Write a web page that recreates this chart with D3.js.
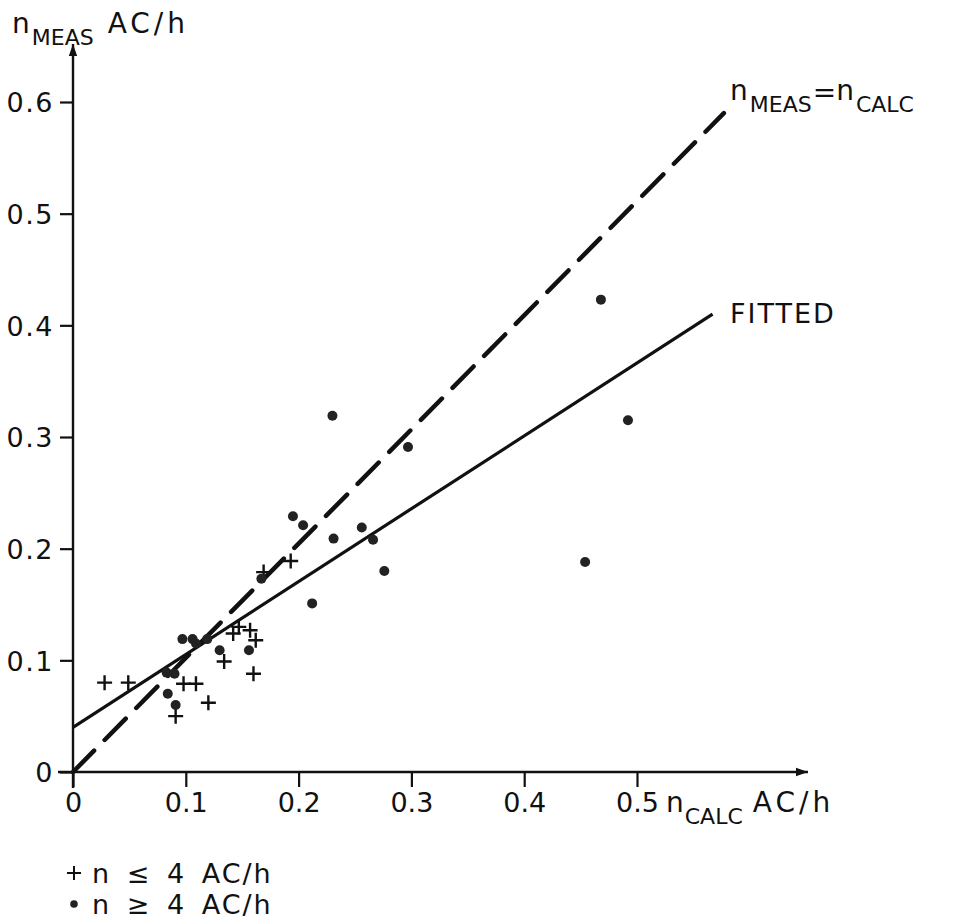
<!DOCTYPE html>
<html>
<head>
<meta charset="utf-8">
<script src="https://cdn.jsdelivr.net/npm/d3@7"></script>
<style>
  body { margin: 0; background: #fff; }
  svg { display: block; }
  text { font-family: "DejaVu Sans", sans-serif; fill: #111; }
  .tick text { font-size: 27px; }
  .tick line { stroke: #111; stroke-width: 2.2; }
</style>
</head>
<body>
<svg id="chart"></svg>
<script>
// n <= 4 AC/h  (plus markers)  [n_CALC, n_MEAS]
const lowRate = [
  [0.028, 0.080], [0.049, 0.080], [0.098, 0.079], [0.109, 0.079],
  [0.091, 0.050], [0.120, 0.062], [0.134, 0.099], [0.142, 0.124],
  [0.147, 0.130], [0.157, 0.127], [0.162, 0.118], [0.160, 0.088],
  [0.169, 0.179], [0.193, 0.189]
];
// n >= 4 AC/h  (dot markers)
const highRate = [
  [0.083, 0.089], [0.090, 0.088], [0.084, 0.070], [0.091, 0.060],
  [0.097, 0.119], [0.106, 0.119], [0.109, 0.115], [0.119, 0.119],
  [0.130, 0.109], [0.156, 0.109], [0.167, 0.173], [0.212, 0.151],
  [0.195, 0.229], [0.204, 0.221], [0.230, 0.319], [0.231, 0.209],
  [0.256, 0.219], [0.266, 0.208], [0.276, 0.180], [0.297, 0.291],
  [0.454, 0.188], [0.468, 0.423], [0.492, 0.315]
];
// reference lines
const identityLine = [[0, 0], [0.577, 0.59]];
const fittedLine = [[0, 0.04], [0.567, 0.41]];

const xTicks = [0, 0.1, 0.2, 0.3, 0.4, 0.5];
const xTickLabels = ["0", "0.1", "0.2", "0.3", "0.4", "0.5"];
const yTicks = [0, 0.1, 0.2, 0.3, 0.4, 0.5, 0.6];
const yTickLabels = ["0", "0.1", "0.2", "0.3", "0.4", "0.5", "0.6"];

const width = 956, height = 923;

const svg = d3.select('#chart')
  .attr('width', width)
  .attr('height', height)
  .attr('viewBox', `0 0 ${width} ${height}`);

const x = d3.scaleLinear().domain([0, 0.5]).range([73, 637]);
const y = d3.scaleLinear().domain([0, 0.6]).range([772, 102]);

// arrow heads
const defs = svg.append('defs');
defs.append('marker')
  .attr('id', 'arrow')
  .attr('viewBox', '0 0 10 10')
  .attr('refX', 10).attr('refY', 5)
  .attr('markerWidth', 32).attr('markerHeight', 12)
  .attr('markerUnits', 'userSpaceOnUse')
  .attr('orient', 'auto')
  .append('path')
  .attr('d', 'M0,1.5 L10,5 L0,8.5 Z')
  .attr('fill', '#111');

// axis lines
svg.append('line')
  .attr('x1', 58).attr('y1', y(0))
  .attr('x2', 808).attr('y2', y(0))
  .attr('stroke', '#111').attr('stroke-width', 2.4)
  .attr('marker-end', 'url(#arrow)');

svg.append('line')
  .attr('x1', x(0)).attr('y1', 788)
  .attr('x2', x(0)).attr('y2', 44)
  .attr('stroke', '#111').attr('stroke-width', 2.4)
  .attr('marker-end', 'url(#arrow)');

// ticks
const xAxis = svg.append('g')
  .attr('transform', `translate(0, ${y(0)})`)
  .call(d3.axisBottom(x)
    .tickValues(xTicks)
    .tickSize(15)
    .tickPadding(6)
    .tickFormat((d, i) => xTickLabels[i]));
xAxis.select('.domain').remove();

const yAxis = svg.append('g')
  .attr('transform', `translate(${x(0)}, 0)`)
  .call(d3.axisLeft(y)
    .tickValues(yTicks)
    .tickSize(13)
    .tickPadding(6)
    .tickFormat((d, i) => yTickLabels[i]));
yAxis.select('.domain').remove();
yAxis.selectAll('.tick text').attr('dy', '0.36em').attr('letter-spacing', 1.5);

// lines
const line = d3.line().x(d => x(d[0])).y(d => y(d[1]));

svg.append('path')
  .datum(identityLine)
  .attr('d', line)
  .attr('fill', 'none')
  .attr('stroke', '#111')
  .attr('stroke-width', 4.5)
  .attr('stroke-linecap', 'round')
  .attr('stroke-dasharray', '30 15');

svg.append('path')
  .datum(fittedLine)
  .attr('d', line)
  .attr('fill', 'none')
  .attr('stroke', '#111')
  .attr('stroke-width', 3.2);

// markers
svg.append('g')
  .selectAll('path')
  .data(lowRate)
  .enter()
  .append('path')
  .attr('d', d => {
    const cx = x(d[0]), cy = y(d[1]), s = 7.5;
    return `M${cx - s},${cy} H${cx + s} M${cx},${cy - s} V${cy + s}`;
  })
  .attr('stroke', '#111')
  .attr('stroke-width', 2.4);

svg.append('g')
  .selectAll('circle')
  .data(highRate)
  .enter()
  .append('circle')
  .attr('cx', d => x(d[0]))
  .attr('cy', d => y(d[1]))
  .attr('r', 5)
  .attr('fill', '#222');

// labels
function subLabel(xPos, yPos, parts) {
  const t = svg.append('text').attr('x', xPos).attr('y', yPos);
  parts.forEach(p => {
    t.append('tspan')
      .attr('font-size', p.sub ? 22 : 28)
      .attr('dy', p.dy || 0)
      .attr('dx', p.dx || 0)
      .attr('letter-spacing', p.ls || 0)
      .text(p.t);
  });
  return t;
}

subLabel(12, 33, [
  { t: 'n' },
  { t: 'MEAS', sub: true, dy: 12, dx: 2 },
  { t: 'AC/h', dy: -12, dx: 14, ls: 4 }
]);

subLabel(666, 812, [
  { t: 'n' },
  { t: 'CALC', sub: true, dy: 12, dx: 1 },
  { t: 'AC/h', dy: -12, dx: 10, ls: 4 }
]);

subLabel(730, 100, [
  { t: 'n' },
  { t: 'MEAS', sub: true, dy: 12, dx: 2 },
  { t: '=', dy: -10, dx: 1 },
  { t: 'n', dy: -2 },
  { t: 'CALC', sub: true, dy: 12, dx: 2 }
]);

svg.append('text')
  .attr('x', 730).attr('y', 323)
  .attr('font-size', 27)
  .attr('letter-spacing', 2)
  .text('FITTED');

// legend
const legend = svg.append('g')
  .attr('font-size', 27)
  .attr('letter-spacing', 2)
  .attr('word-spacing', 5);
legend.append('path')
  .attr('d', 'M67,873 H81 M74,866 V880')
  .attr('stroke', '#111').attr('stroke-width', 2);
legend.append('text')
  .attr('x', 92).attr('y', 883)
  .text('n ≤ 4 AC/h');
legend.append('circle')
  .attr('cx', 74).attr('cy', 904).attr('r', 3.8)
  .attr('fill', '#222');
legend.append('text')
  .attr('x', 92).attr('y', 914)
  .text('n ≥ 4 AC/h');
</script>
</body>
</html>
